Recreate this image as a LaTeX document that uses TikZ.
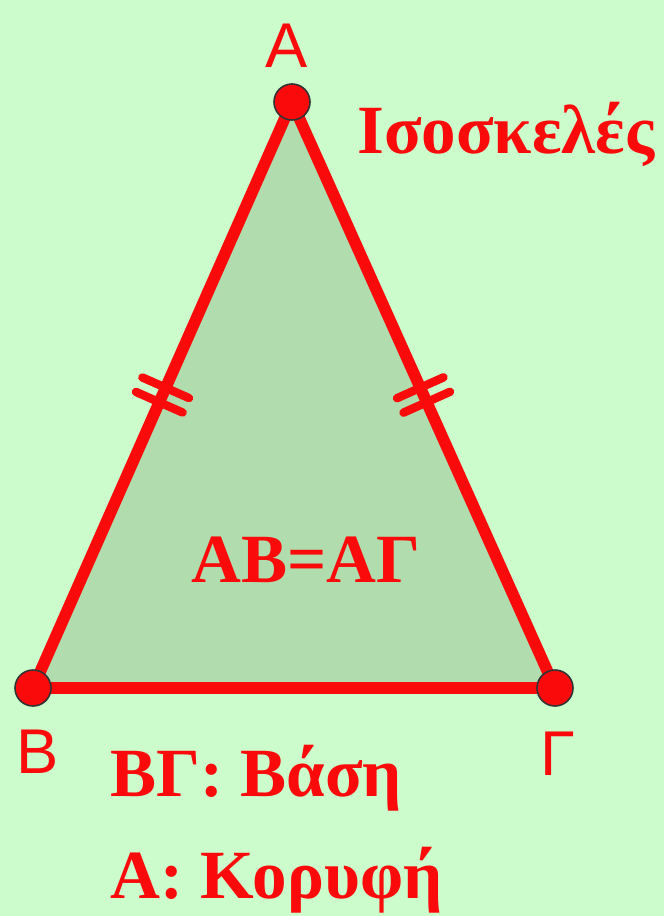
\documentclass[tikz,border=0pt]{standalone}
\usepackage{fontspec}
\usepackage{xcolor}
\usetikzlibrary{decorations.markings}
\newfontfamily\grserif{Liberation Serif}
\newfontfamily\grsans{Liberation Sans}
\definecolor{bggreen}{RGB}{204,252,204}
\definecolor{trigreen}{RGB}{176,220,174}
\definecolor{edgered}{RGB}{250,10,10}

\begin{document}
\begin{tikzpicture}[x=0.02cm, y=-0.02cm,
  side/.style={edgered, line width=6.6pt, line join=round},
  vertex/.style={circle, draw=black!80, line width=0.9pt, fill=edgered, minimum size=20.5pt, inner sep=0pt},
  vlabel/.style={text=edgered, font=\grsans\fontsize{36}{40}\selectfont, inner sep=0pt},
  caption/.style={text=edgered, font=\grserif\bfseries\fontsize{39.3}{46}\selectfont, inner sep=0pt},
  ticks/.style={decoration={markings, mark=at position 0.5 with {
      \draw[edgered, line width=4.8pt, line cap=round] (-4.5pt,-14.5pt) -- (-4.5pt,14.5pt);
      \draw[edgered, line width=4.8pt, line cap=round] (4.5pt,-14.5pt) -- (4.5pt,14.5pt);}},
    postaction={decorate}}]
% Background
\fill[bggreen] (0,0) rectangle (664,916);
\useasboundingbox (0,0) rectangle (664,916);

% Vertices
\coordinate (A) at (292,102);
\coordinate (B) at (33,688);
\coordinate (G) at (555,688);

% Triangle
\draw[side, fill=trigreen] (A) -- (B) -- (G) -- cycle;

% Equal sides
\path[ticks] (A) -- (B);
\path[ticks] (A) -- (G);

% Vertex dots
\node[vertex] (dotA) at (A) {};
\node[vertex] (dotB) at (B) {};
\node[vertex] (dotG) at (G) {};

% Vertex labels
\node[vlabel] (labA) at (287,46) {Α};
\node[vlabel] (labB) at (38,752) {Β};
\node[vlabel] (labG) at (558,754) {Γ};

% Texts
\node[caption, anchor=base west] (title) at (357,153) {Ισοσκελές};
\node[caption, anchor=base] (equal) at (306,582) {ΑΒ=ΑΓ};
\node[caption, anchor=base west] (base) at (110,796) {ΒΓ: Βάση};
\node[caption, anchor=base west] (apex) at (110,898) {Α: Κορυφή};
\end{tikzpicture}
\end{document}
